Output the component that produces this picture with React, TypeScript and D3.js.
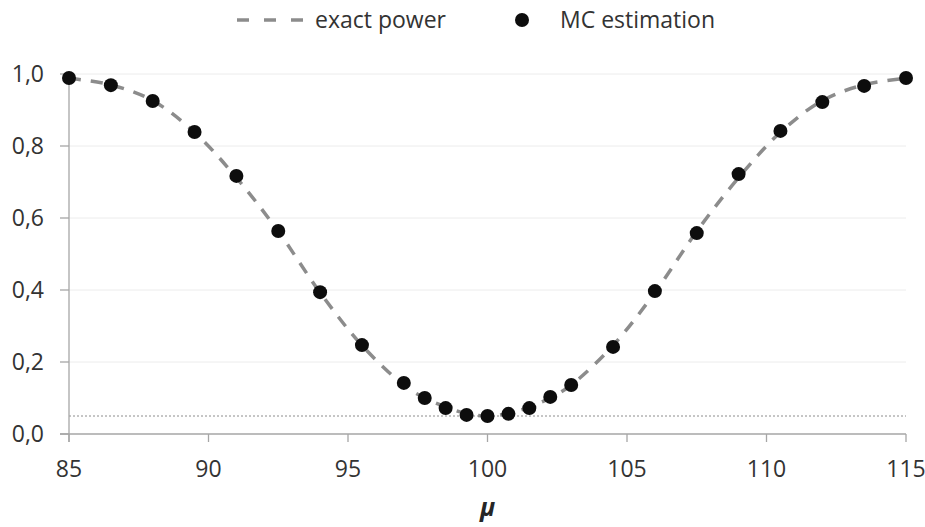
import React from "react";
import * as d3 from "d3";

const muValues = [85, 86.5, 88, 89.5, 91, 92.5, 94, 95.5, 97, 97.75, 98.5, 99.25, 100, 100.75, 101.5, 102.25, 103, 104.5, 106, 107.5, 109, 110.5, 112, 113.5, 115];
const exactPower = [0.988, 0.97, 0.926, 0.838, 0.712, 0.563, 0.393, 0.246, 0.136, 0.1, 0.075, 0.057, 0.05, 0.057, 0.075, 0.1, 0.136, 0.246, 0.393, 0.563, 0.712, 0.838, 0.926, 0.97, 0.988];
const mcEstimation = [0.989, 0.969, 0.925, 0.839, 0.717, 0.564, 0.394, 0.247, 0.142, 0.1, 0.072, 0.053, 0.05, 0.056, 0.072, 0.103, 0.136, 0.242, 0.397, 0.558, 0.722, 0.842, 0.922, 0.967, 0.989];
const alphaLevel = 0.05;
const xTicks = [85, 90, 95, 100, 105, 110, 115];
const yTicks = [0, 0.2, 0.4, 0.6, 0.8, 1.0];

const W = 925, H = 527;
const left = 69, right = 906, top = 74, bottom = 434;
const FONT = "'Open Sans', sans-serif";

export default function App() {
  const x = d3.scaleLinear().domain([85, 115]).range([left, right]);
  const y = d3.scaleLinear().domain([0, 1]).range([bottom, top]);
  const line = d3
    .line<number>()
    .x((_, i) => x(muValues[i]))
    .y((d) => y(d))
    .curve(d3.curveCatmullRom.alpha(0.5));
  const fmt = (v: number) => v.toFixed(1).replace(".", ",");
  return (
    <svg width={W} height={H} style={{ position: "absolute", left: 0, top: 0, background: "#fff" }}>
      {yTicks.filter((t) => t > 0).map((t) => (
        <line key={"g" + t} x1={left} x2={right} y1={y(t)} y2={y(t)} stroke="#ececec" strokeWidth={1} />
      ))}
      <line x1={left} x2={right} y1={y(alphaLevel)} y2={y(alphaLevel)} stroke="#8c8c8c" strokeWidth={1} strokeDasharray="2,2" />
      <line x1={left} x2={left} y1={top} y2={bottom + 8} stroke="#a6a6a6" strokeWidth={1.3} />
      <line x1={left - 9} x2={right} y1={bottom} y2={bottom} stroke="#a6a6a6" strokeWidth={1.3} />
      {yTicks.map((t) => (
        <g key={"y" + t}>
          <line x1={left - 9} x2={left} y1={y(t)} y2={y(t)} stroke="#a6a6a6" strokeWidth={1.3} />
          <text x={44} y={y(t)} dy="0.35em" textAnchor="end" fontFamily={FONT} fontSize={23} fill="#333">
            {fmt(t)}
          </text>
        </g>
      ))}
      {xTicks.map((t) => (
        <g key={"x" + t}>
          <line x1={x(t)} x2={x(t)} y1={bottom} y2={bottom + 8} stroke="#a6a6a6" strokeWidth={1.3} />
          <text x={x(t)} y={469} dy="0.35em" textAnchor="middle" fontFamily={FONT} fontSize={23} fill="#333">
            {t}
          </text>
        </g>
      ))}
      <text x={x(100)} y={507} dy="0.35em" textAnchor="middle" fontFamily={FONT} fontSize={25} fontWeight="bold" fontStyle="italic" fill="#262626">
        μ
      </text>
      <path d={line(exactPower) || ""} fill="none" stroke="#8c8c8c" strokeWidth={3.5} strokeDasharray="12,10" />
      {mcEstimation.map((v, i) => (
        <circle key={"c" + i} cx={x(muValues[i])} cy={y(v)} r={7} fill="#0d0d0d" />
      ))}
      <line x1={237} x2={303} y1={20} y2={20} stroke="#8c8c8c" strokeWidth={3.5} strokeDasharray="12,15" />
      <text x={315} y={20} dy="0.35em" fontFamily={FONT} fontSize={23} fill="#333">exact power</text>
      <circle cx={522} cy={20} r={7} fill="#0d0d0d" />
      <text x={560} y={20} dy="0.35em" fontFamily={FONT} fontSize={23} fill="#333">MC estimation</text>
    </svg>
  );
}
